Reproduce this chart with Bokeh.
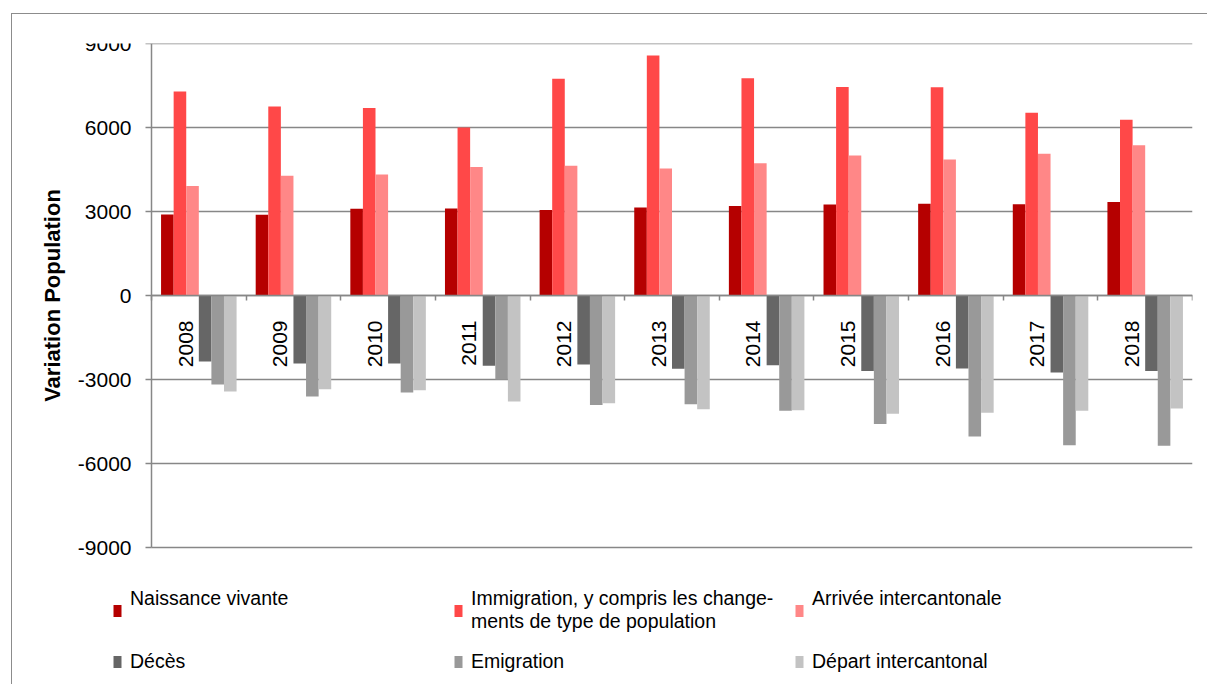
import math
from bokeh.plotting import figure
from bokeh.models import (ColumnDataSource, Range1d, FixedTicker, LinearAxis,
                          Legend, LegendItem, NumeralTickFormatter)
from bokeh.transform import dodge
from bokeh.core.properties import value
from bokeh.embed import file_html
from bokeh.resources import INLINE

years = ["2008", "2009", "2010", "2011", "2012", "2013", "2014", "2015", "2016", "2017", "2018"]
naissance = [2890, 2880, 3095, 3105, 3050, 3145, 3200, 3250, 3275, 3260, 3335]
immigration = [7285, 6750, 6700, 6000, 7740, 8570, 7760, 7450, 7440, 6525, 6275]
arrivee = [3915, 4275, 4320, 4585, 4630, 4535, 4725, 5000, 4855, 5060, 5370]
deces = [-2360, -2430, -2430, -2510, -2465, -2620, -2490, -2700, -2605, -2750, -2700]
emigration = [-3180, -3605, -3465, -3000, -3915, -3880, -4120, -4585, -5035, -5345, -5370]
depart = [-3430, -3345, -3380, -3785, -3845, -4060, -4095, -4225, -4190, -4120, -4035]

# first-row labels share the two-line height of the wrapped immigration label
series_labels = ["Naissance vivante\n ",
                 "Immigration, y compris les change-\nments de type de population",
                 "Arrivée intercantonale\n ", "Décès", "Emigration", "Départ intercantonal"]
series_keys = ["naissance", "immigration", "arrivee", "deces", "emigration", "depart"]
series_colors = ["#B50000", "#FF4848", "#FF8787", "#666666", "#999999", "#C3C3C3"]
y_ticks = [-9000, -6000, -3000, 0, 3000, 6000, 9000]

FONT = "Liberation Sans"
GRID = "#878787"

# layout (pixels): plot area 1041 x 504, extra room left (axis) and below (legend)
W, H = 1196, 671
PAD_L, PAD_R, PAD_T = 139, 16, 29
AREA_W, AREA_H = W - PAD_L - PAD_R, 504
PAD_B = H - PAD_T - AREA_H
n = len(years)
x_start = -PAD_L * n / AREA_W
y_span = y_ticks[-1] - y_ticks[0]
y_start = y_ticks[0] - PAD_B * y_span / AREA_H

src = ColumnDataSource(dict(
    x=[i + 0.5 for i in range(n)], year=years,
    naissance=naissance, immigration=immigration, arrivee=arrivee,
    deces=deces, emigration=emigration, depart=depart))
grid_src = ColumnDataSource(dict(y=y_ticks, x0=[0] * len(y_ticks), x1=[n] * len(y_ticks)))

p = figure(width=W, height=H, output_backend="svg", toolbar_location=None,
           x_range=Range1d(x_start, n), y_range=Range1d(y_start, y_ticks[-1]),
           x_axis_type=None, y_axis_type=None,
           min_border_left=0, min_border_right=PAD_R,
           min_border_top=PAD_T, min_border_bottom=0)
p.margin = (13, 0, 0, 11)
p.styles = {"border-top": "1px solid #8c8c8c", "border-left": "1px solid #8c8c8c"}
p.outline_line_color = None
p.background_fill_color = "white"
p.border_fill_color = "white"
p.xgrid.visible = False
p.ygrid.visible = False

# horizontal gridlines
p.segment(x0="x0", x1="x1", y0="y", y1="y", source=grid_src,
          line_color=GRID, line_width=1.5)

w = 0.133
items = []
for k, (key, lab, col) in enumerate(zip(series_keys, series_labels, series_colors)):
    r = p.vbar(x=dodge("x", (k - 2.5) * w, range=p.x_range), top=key, bottom=0,
               width=w, source=src, fill_color=col, line_color=None)
    items.append(LegendItem(label=lab, renderers=[r]))

# x axis at zero with ticks at category boundaries (no tick labels)
x_bounds = list(range(n + 1))
xaxis = LinearAxis(ticker=FixedTicker(ticks=x_bounds), bounds=(0, n),
                   fixed_location=0, major_label_overrides={t: "" for t in x_bounds},
                   major_tick_in=0, major_tick_out=5, minor_tick_line_color=None,
                   axis_line_color=GRID, axis_line_width=1.5,
                   major_tick_line_color=GRID, major_tick_line_width=1.5)
p.add_layout(xaxis, "below")

# y axis at x = 0
yax = LinearAxis(ticker=FixedTicker(ticks=y_ticks), bounds=(y_ticks[0], y_ticks[-1]),
                 fixed_location=0, formatter=NumeralTickFormatter(format="0"),
                 axis_label="Variation Population")
yax.axis_label_text_font = FONT
yax.axis_label_text_font_size = "22px"
yax.axis_label_text_font_style = "bold"
yax.axis_label_text_color = "black"
yax.axis_label_standoff = 10
yax.major_label_text_font = FONT
yax.major_label_text_font_size = "21px"
yax.major_label_text_color = "black"
yax.major_label_standoff = 14
yax.major_tick_in = 0
yax.major_tick_out = 6
yax.minor_tick_line_color = None
yax.axis_line_color = GRID
yax.axis_line_width = 1.5
yax.major_tick_line_color = GRID
yax.major_tick_line_width = 1.5
p.add_layout(yax, "left")

# year labels
p.text(x=dodge("x", -0.14, range=p.x_range), y=0, text="year", source=src,
       angle=math.pi / 2, text_align="right", text_baseline="middle", y_offset=25,
       text_font=value(FONT), text_font_size="21px", text_color="black")

legend = Legend(items=items, location=(100, 12), orientation="horizontal", ncols=3,
                glyph_width=10, glyph_height=15, label_standoff=8, label_width=306,
                spacing=17, padding=0, margin=0, border_line_color=None,
                background_fill_alpha=0, label_text_font=FONT,
                label_text_font_size="19.5px", label_text_line_height=1.23,
                label_text_color="black", label_height=20)
p.add_layout(legend, "center")

open("out.html", "w").write(file_html(p, INLINE))
